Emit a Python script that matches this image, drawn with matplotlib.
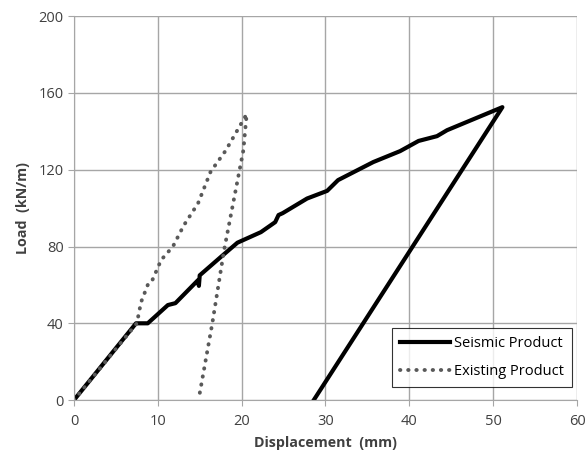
import matplotlib
matplotlib.use("Agg")
import matplotlib.pyplot as plt

# Seismic product: loading branch then unloading line
seismic_x = [0, 7.4, 8.8, 11.2, 12.1, 14.8, 14.9, 15.0, 17.5, 19.5, 22.3, 24.0, 24.4, 24.9,
             27.8, 30.2, 31.5, 35.7, 38.9, 41.1, 43.3, 44.5, 51.1, 28.6]
seismic_y = [0, 40, 40, 49.5, 50.5, 62.5, 59.5, 65, 74.5, 82, 87.5, 92.7, 96.4, 97.4,
             105, 109, 114.6, 124, 129.7, 135, 137.5, 140.6, 152.6, 0]

# Existing product
existing_x = [0, 7.5, 8.0, 8.8, 9.2, 10.0, 10.4, 11.8, 13.1, 14.8, 16.3, 18.1, 20.6,
              20.2, 17.9, 16.5, 15.0]
existing_y = [0, 40, 51, 60, 61, 69, 73, 80, 91, 102.5, 119, 130, 149,
              130, 78, 40, 3.5]

plt.rcParams['font.family'] = ['Open Sans', 'DejaVu Sans']

fig = plt.figure(figsize=(5.87, 4.62), dpi=100)
ax = fig.add_axes([0.126, 0.134, 0.857, 0.831])

ax.plot(seismic_x, seismic_y, color="black", linewidth=3, label="Seismic Product",
        solid_joinstyle="round")
ax.plot(existing_x, existing_y, color="#595959", linewidth=2.8, linestyle=(0, (0.1, 2.0)),
        dash_capstyle="round", label="Existing Product")

ax.set_xlim(0, 60)
ax.set_ylim(0, 200)
ax.set_xticks(range(0, 61, 10))
ax.set_yticks(range(0, 201, 40))
ax.grid(True, color="#a6a6a6", linewidth=1)
ax.set_axisbelow(True)
for s in ["top", "right"]:
    ax.spines[s].set_visible(False)
for s in ["left", "bottom"]:
    ax.spines[s].set_color("#a6a6a6")
ax.tick_params(length=4, color="#a6a6a6", labelsize=10.5, labelcolor="#404040")
ax.tick_params(axis="x", pad=6)

ax.set_xlabel("Displacement  (mm)", fontsize=10.3, fontweight="bold", color="#404040",
              labelpad=5)
ax.set_ylabel("Load  (kN/m)", fontsize=10.3, fontweight="bold", color="#404040",
              labelpad=6)

leg = ax.legend(loc="lower right", bbox_to_anchor=(0.99, 0.035), fontsize=10.5,
                frameon=True, fancybox=False, edgecolor="black", handlelength=3.4,
                handletextpad=0.3, borderpad=0.55, labelspacing=0.85, borderaxespad=0)
leg.get_frame().set_linewidth(0.8)

fig.savefig("out.png", dpi=100)
